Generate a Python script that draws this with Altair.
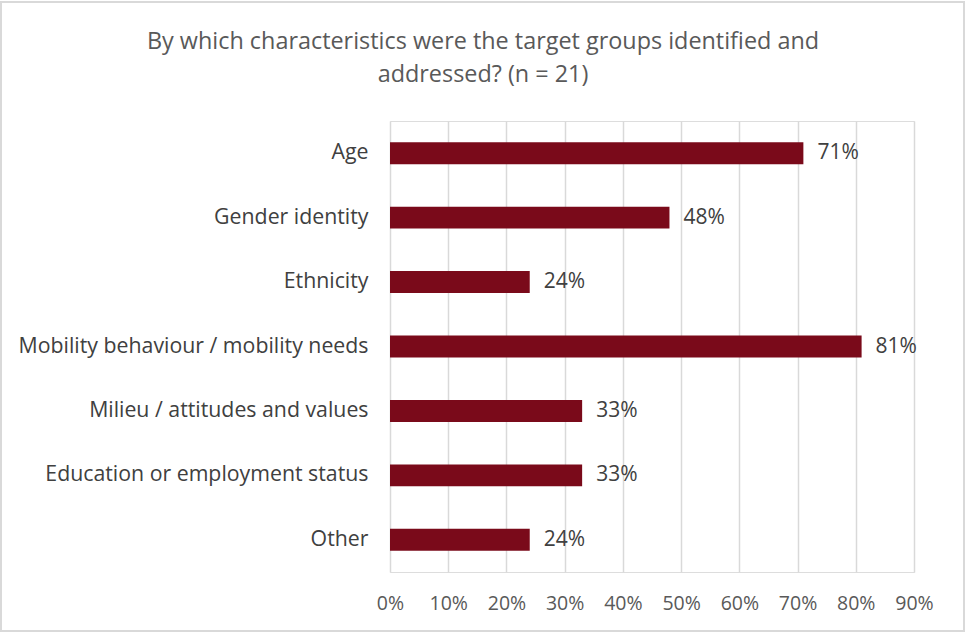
import altair as alt
import pandas as pd

categories = ["Age", "Gender identity", "Ethnicity", "Mobility behaviour / mobility needs",
              "Milieu / attitudes and values", "Education or employment status", "Other"]
values = [0.71, 0.48, 0.24, 0.81, 0.33, 0.33, 0.24]
labels = ["71%", "48%", "24%", "81%", "33%", "33%", "24%"]
title_lines = ["By which characteristics were the target groups identified and",
               "addressed? (n = 21)"]

df = pd.DataFrame({"cat": categories, "val": values, "lab": labels})

FONT = "Open Sans"
x = alt.X("val:Q", scale=alt.Scale(domain=[0, 0.9], nice=False),
          axis=alt.Axis(format=".0%", values=[i / 10 for i in range(10)], title=None,
                        grid=True, gridColor="#d9d9d9", gridWidth=1.5, domain=False, ticks=False,
                        labelFont=FONT, labelFontSize=19.5, labelColor="#595959", labelPadding=22,
                        labelFlush=False, labelOverlap=False))
y = alt.Y("cat:N", sort=categories,
          scale=alt.Scale(paddingInner=0.66, paddingOuter=0.33),
          axis=alt.Axis(title=None, domain=False, ticks=False, grid=False,
                        labelFont=FONT, labelFontSize=21.3, labelColor="#404040", labelPadding=22,
                        labelLimit=500))

bars = alt.Chart(df).mark_bar(color="#7a0a1a").encode(x=x, y=y)
text = alt.Chart(df).mark_text(align="left", dx=14, font=FONT, fontSize=21, color="#404040").encode(
    x="val:Q", y=alt.Y("cat:N", sort=categories), text="lab:N")

border = alt.Chart(df).mark_rect(fill=None, stroke="#d9d9d9", strokeWidth=1.5, clip=False).encode(
    x=alt.value(-389), x2=alt.value(574), y=alt.value(-119), y2=alt.value(510))

t1 = alt.Chart(pd.DataFrame({"t": [title_lines[0]]})).mark_text(
    font=FONT, fontSize=23.4, color="#595959", align="center", baseline="middle").encode(
    x=alt.value(93), y=alt.value(-79), text="t:N")
t2 = alt.Chart(pd.DataFrame({"t": [title_lines[1]]})).mark_text(
    font=FONT, fontSize=23.4, color="#595959", align="center", baseline="middle").encode(
    x=alt.value(93), y=alt.value(-46), text="t:N")

chart = alt.layer(border, bars, text, t1, t2).properties(
    width=524, height=451,
    padding={"left": 390, "top": 121, "right": 51, "bottom": 61},
    autosize=alt.AutoSizeParams(type="none"),
).configure_view(stroke=None).configure(background="white")

chart.save("out.html", embed_options={"renderer": "svg", "actions": False})
